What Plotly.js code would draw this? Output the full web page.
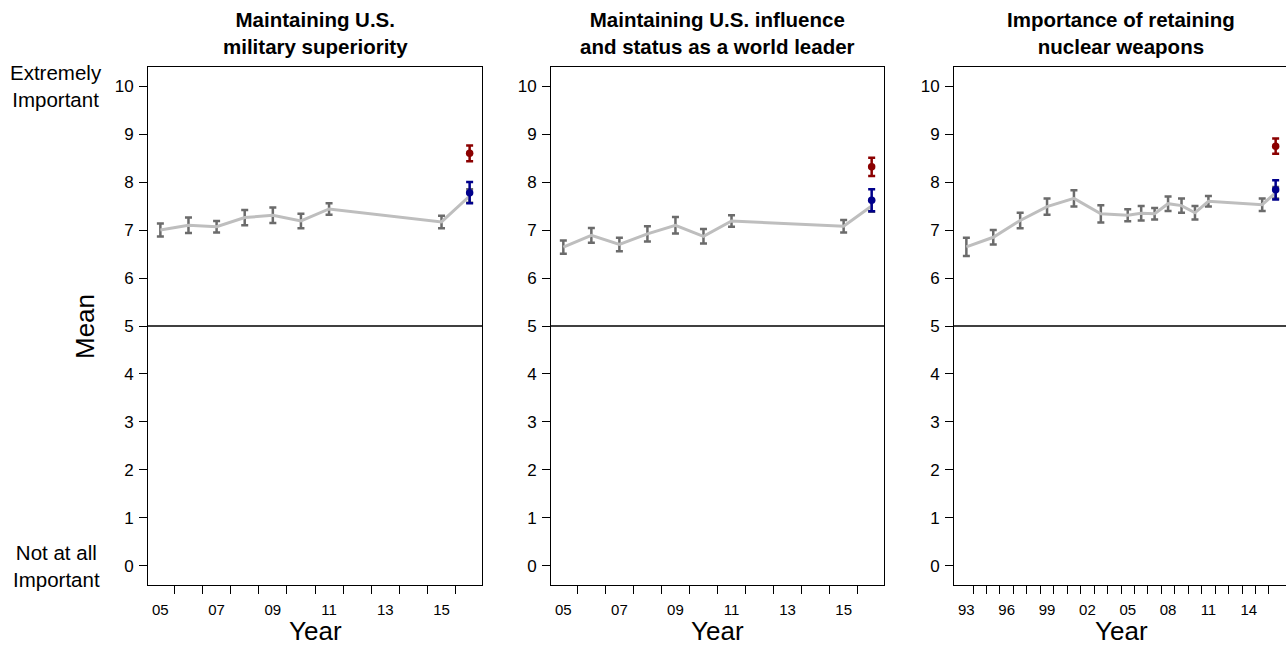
<!DOCTYPE html>
<html>
<head>
<meta charset="utf-8">
<script src="https://cdn.plot.ly/plotly-3.0.1.min.js"></script>
<style>html,body{margin:0;padding:0;background:#fff;}#chart{width:1286px;height:645px;}</style>
</head>
<body>
<div id="chart"></div>
<script>
// ---- Data ----
const panelTitles = [
  "Maintaining U.S.<br>military superiority",
  "Maintaining U.S. influence<br>and status as a world leader",
  "Importance of retaining<br>nuclear weapons"
];

const years1 = [2005, 2006, 2007, 2008, 2009, 2010, 2011, 2015, 2016];
const mean1  = [7.00, 7.10, 7.07, 7.26, 7.31, 7.19, 7.44, 7.17, 7.71];
const err1   = [0.135, 0.16, 0.12, 0.16, 0.16, 0.15, 0.12, 0.13, 0.14];
const rep1 = 8.60, repErr1 = 0.165;
const dem1 = 7.78, demErr1 = 0.22;

const years2 = [2005, 2006, 2007, 2008, 2009, 2010, 2011, 2015, 2016];
const mean2  = [6.645, 6.89, 6.70, 6.92, 7.10, 6.87, 7.19, 7.08, 7.50];
const err2   = [0.14, 0.155, 0.14, 0.16, 0.17, 0.15, 0.12, 0.13, 0.12];
const rep2 = 8.32, repErr2 = 0.19;
const dem2 = 7.62, demErr2 = 0.23;

const years3 = [1993, 1995, 1997, 1999, 2001, 2003, 2005, 2006, 2007, 2008, 2009, 2010, 2011, 2015, 2016];
const mean3  = [6.65, 6.85, 7.20, 7.49, 7.66, 7.34, 7.31, 7.35, 7.34, 7.55, 7.51, 7.36, 7.60, 7.53, 7.78];
const err3   = [0.19, 0.15, 0.16, 0.17, 0.17, 0.18, 0.125, 0.15, 0.12, 0.15, 0.15, 0.14, 0.11, 0.13, 0.12];
const rep3 = 8.75, repErr3 = 0.16;
const dem3 = 7.84, demErr3 = 0.20;

const xLabelVals12 = [2005, 2007, 2009, 2011, 2013, 2015];
const xLabelText12 = ["05", "07", "09", "11", "13", "15"];
const xMinor12 = [2005.5, 2006.5, 2007.5, 2008.5, 2009.5, 2010.5, 2011.5, 2012.5, 2013.5, 2014.5, 2015.5];
const xLabelVals3 = [1993, 1996, 1999, 2002, 2005, 2008, 2011, 2014];
const xLabelText3 = ["93", "96", "99", "02", "05", "08", "11", "14"];
const xMinor3 = [1993.5, 1994.5, 1995.5, 1996.5, 1997.5, 1998.5, 1999.5, 2000.5, 2001.5, 2002.5, 2003.5,
                 2004.5, 2005.5, 2006.5, 2007.5, 2008.5, 2009.5, 2010.5, 2011.5, 2012.5, 2013.5, 2014.5, 2015.5];
const yTicks = [0, 1, 2, 3, 4, 5, 6, 7, 8, 9, 10];

// ---- Styles ----
const FONT = "Liberation Sans, Arial, sans-serif";
const GRAY_LINE = "#bebebe";
const GRAY_ERR = "#6b6b6b";
const RED = "#8b0000";
const BLUE = "#00008b";
const W = 1286, H = 645;

function series(xs, ys, es, xa, ya) {
  return {
    type: "scatter", mode: "lines", x: xs, y: ys, xaxis: xa, yaxis: ya,
    line: {color: GRAY_LINE, width: 3},
    error_y: {type: "data", array: es, visible: true, color: GRAY_ERR, thickness: 2.5, width: 3.5},
    hoverinfo: "skip", showlegend: false
  };
}
function point(x, y, e, color, xa, ya) {
  return {
    type: "scatter", mode: "markers", x: [x], y: [y], xaxis: xa, yaxis: ya,
    marker: {color: color, size: 7.5},
    error_y: {type: "data", array: [e], visible: true, color: color, thickness: 2.5, width: 3.5},
    hoverinfo: "skip", showlegend: false
  };
}

const data = [
  series(years1, mean1, err1, "x", "y"),
  point(2016, rep1, repErr1, RED, "x", "y"),
  point(2016, dem1, demErr1, BLUE, "x", "y"),
  series(years2, mean2, err2, "x2", "y2"),
  point(2016, rep2, repErr2, RED, "x2", "y2"),
  point(2016, dem2, demErr2, BLUE, "x2", "y2"),
  series(years3, mean3, err3, "x3", "y3"),
  point(2016, rep3, repErr3, RED, "x3", "y3"),
  point(2016, dem3, demErr3, BLUE, "x3", "y3")
];

const yDom = [1 - 585 / H, 1 - 67 / H];
const px = [[148, 482], [551, 884], [954, 1286]];

function xaxis(i, range, vals, text, minor, mirror) {
  return {
    domain: [px[i][0] / W, px[i][1] / W], anchor: i === 0 ? "y" : "y" + (i + 1),
    range: range, showgrid: false, zeroline: false,
    showline: true, linecolor: "#000", linewidth: 1, mirror: mirror,
    tickmode: "array", tickvals: vals, ticktext: text, ticks: "",
    tickfont: {family: FONT, size: 15, color: "#000"},
    ticklabelstandoff: 11,
    minor: {tickmode: "array", tickvals: minor, ticks: "outside", ticklen: 8, tickwidth: 1, tickcolor: "#000", showgrid: false},
    automargin: false, fixedrange: true
  };
}
function yaxis(i, mirror) {
  return {
    domain: yDom, anchor: i === 0 ? "x" : "x" + (i + 1),
    range: [-0.4, 10.4], showgrid: false, zeroline: false,
    showline: true, linecolor: "#000", linewidth: 1, mirror: mirror,
    tickmode: "array", tickvals: yTicks, ticks: "outside", ticklen: 8, tickwidth: 1, tickcolor: "#000",
    tickfont: {family: FONT, size: 17, color: "#000"},
    ticklabelstandoff: 2,
    automargin: false, fixedrange: true
  };
}

const shapes = [];
["x", "x2", "x3"].forEach((xa, i) => {
  const ya = i === 0 ? "y" : "y" + (i + 1);
  shapes.push({type: "line", xref: xa + " domain", yref: ya, x0: 0, x1: 1, y0: 5, y1: 5,
               line: {color: "#000", width: 1.5}});
});

const annotations = [];
panelTitles.forEach((t, i) => {
  annotations.push({text: "<b>" + t + "</b>", xref: "paper", yref: "paper",
    x: (px[i][0] + (i === 2 ? 1288 : px[i][1])) / 2 / W, y: 1 - 33 / H, xanchor: "center", yanchor: "middle",
    showarrow: false, font: {family: FONT, size: 20.5, color: "#000"}});
  annotations.push({text: "Year", xref: "paper", yref: "paper",
    x: (px[i][0] + (i === 2 ? 1288 : px[i][1])) / 2 / W, y: 1 - 631 / H, xanchor: "center", yanchor: "middle",
    showarrow: false, font: {family: FONT, size: 26, color: "#000"}});
});
annotations.push({text: "Mean", xref: "paper", yref: "y", x: 85 / W, y: 5, textangle: -90,
  xanchor: "center", yanchor: "middle", showarrow: false, font: {family: FONT, size: 26, color: "#000"}});
annotations.push({text: "Extremely<br>Important", xref: "paper", yref: "y", x: 56 / W, y: 10,
  xanchor: "center", yanchor: "middle", showarrow: false, font: {family: FONT, size: 20.5, color: "#000"}});
annotations.push({text: "Not at all<br>Important", xref: "paper", yref: "y", x: 56 / W, y: 0,
  xanchor: "center", yanchor: "middle", showarrow: false, font: {family: FONT, size: 20.5, color: "#000"}});

const layout = {
  width: W, height: H,
  margin: {l: 0, r: 0, t: 0, b: 0},
  paper_bgcolor: "#fff", plot_bgcolor: "#fff",
  showlegend: false,
  font: {family: FONT, color: "#000"},
  xaxis: xaxis(0, [2004.56, 2016.44], xLabelVals12, xLabelText12, xMinor12, true),
  xaxis2: xaxis(1, [2004.56, 2016.44], xLabelVals12, xLabelText12, xMinor12, true),
  xaxis3: xaxis(2, [1992.08, 2016.77], xLabelVals3, xLabelText3, xMinor3, true),
  yaxis: yaxis(0, true),
  yaxis2: yaxis(1, true),
  yaxis3: yaxis(2, false),
  shapes: shapes,
  annotations: annotations
};

Plotly.newPlot("chart", data, layout, {displayModeBar: false, staticPlot: true});
</script>
</body>
</html>
